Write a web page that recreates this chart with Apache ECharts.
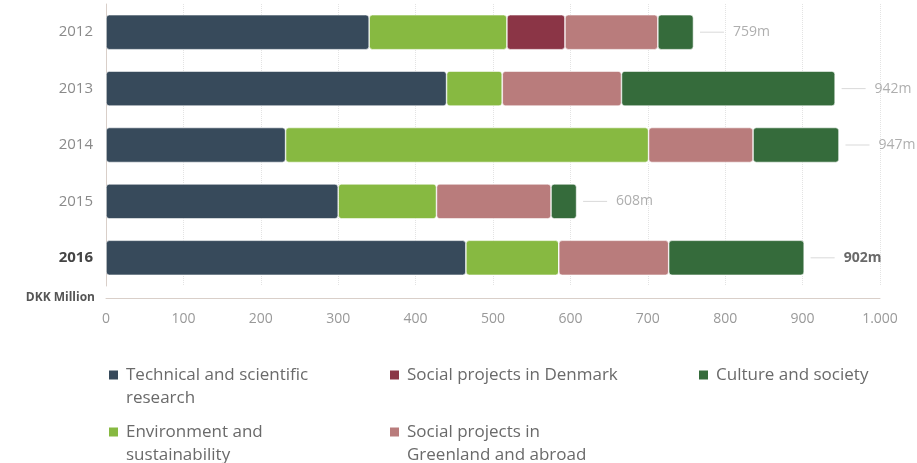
<!DOCTYPE html>
<html>
<head>
<meta charset="utf-8">
<script src="https://cdn.jsdelivr.net/npm/echarts@6/dist/echarts.min.js"></script>
<style>
  html, body { margin: 0; padding: 0; background: #fff; }
  #chart { width: 917px; height: 463px; }
</style>
</head>
<body>
<div id="chart"></div>
<script>
const years = ["2012", "2013", "2014", "2015", "2016"];
const technical = [340, 440, 232, 300, 465];
const environment = [178, 72, 469, 127, 120];
const socialDenmark = [75, 0, 0, 0, 0];
const socialGreenland = [120, 154, 135, 148, 142];
const culture = [46, 276, 111, 33, 175];
const totals = [759, 942, 947, 608, 902];

const names = [
  "Technical and scientific\nresearch",
  "Environment and\nsustainability",
  "Social projects in Denmark",
  "Social projects in\nGreenland and abroad",
  "Culture and society"
];
const colors = ["#374a5b", "#87b941", "#8b3546", "#b97c7c", "#356b3b"];
const font = "Open Sans";

function barSeries(name, data, color) {
  return {
    name: name,
    type: "bar",
    stack: "total",
    barWidth: 35,
    data: data,
    itemStyle: { color: color, borderRadius: 3, borderColor: "#fff", borderWidth: 0.6 }
  };
}

// two-line entries get an empty first line so the square sits next to the first text line
function legendItem(name, left, lineY) {
  const lh = 23;
  const twoLines = name.indexOf("\n") >= 0;
  return {
    data: [name],
    left: left,
    top: twoLines ? lineY - 1.5 * lh : lineY - lh / 2,
    padding: 0,
    icon: "rect",
    itemWidth: 11,
    itemHeight: 11,
    selectedMode: false,
    formatter: n => (n.indexOf("\n") >= 0 ? "\n" + n : n),
    textStyle: {
      fontFamily: font,
      fontSize: 17,
      color: "#6a6a6a",
      lineHeight: lh,
      padding: [0, 0, 0, 2]
    }
  };
}

const chart = echarts.init(document.getElementById("chart"));

const option = {
  animation: false,
  color: colors,
  grid: { left: 106, right: 37, top: 4, bottom: 177 },
  legend: [
    legendItem(names[0], 107, 375),
    legendItem(names[1], 107, 432),
    legendItem(names[2], 388, 375),
    legendItem(names[3], 388, 432),
    legendItem(names[4], 697, 375)
  ],
  xAxis: {
    type: "value",
    min: 0,
    max: 1000,
    interval: 100,
    offset: 12,
    name: "DKK Million",
    nameLocation: "start",
    nameGap: 11,
    nameTextStyle: {
      fontFamily: font,
      fontSize: 12,
      fontWeight: "bold",
      color: "#555",
      padding: [0, 0, 8, 0]
    },
    axisLine: { show: true, lineStyle: { color: "#d9cfc9", width: 1 } },
    axisTick: { show: false },
    axisLabel: {
      fontFamily: font,
      fontSize: 14,
      color: "#999",
      margin: 14,
      formatter: v => (v >= 1000 ? v.toLocaleString("en-US").replace(",", ".") : String(v))
    },
    splitLine: { show: true, lineStyle: { color: "#e3e3e3", type: "dotted" } }
  },
  yAxis: {
    type: "category",
    data: years,
    inverse: true,
    axisLine: { show: true, lineStyle: { color: "#d9cfc9", width: 1 } },
    axisTick: { show: false },
    axisLabel: {
      fontFamily: font,
      fontSize: 15,
      color: "#8a8a8a",
      margin: 13,
      formatter: v => (v === "2016" ? "{b|" + v + "}" : v),
      rich: { b: { fontFamily: font, fontSize: 15, fontWeight: "bold", color: "#444" } }
    }
  },
  series: [
    barSeries(names[0], technical, colors[0]),
    barSeries(names[1], environment, colors[1]),
    barSeries(names[2], socialDenmark, colors[2]),
    barSeries(names[3], socialGreenland, colors[3]),
    barSeries(names[4], culture, colors[4]),
    {
      type: "scatter",
      symbolSize: 1,
      itemStyle: { color: "rgba(0,0,0,0)" },
      silent: true,
      data: totals.map((t, i) => ({
        value: [t, years[i]],
        label: {
          formatter: "{line|}{gap|}{" + (years[i] === "2016" ? "tb" : "t") + "|" + t + "m}"
        }
      })),
      label: {
        show: true,
        position: "right",
        distance: 6,
        rich: {
          line: { width: 24, height: 1, backgroundColor: "#cfcfcf" },
          gap: { width: 9 },
          t: { fontFamily: font, fontSize: 14, color: "#9a9a9a" },
          tb: { fontFamily: font, fontSize: 14, fontWeight: "bold", color: "#444" }
        }
      }
    }
  ]
};

chart.setOption(option);
</script>
</body>
</html>
